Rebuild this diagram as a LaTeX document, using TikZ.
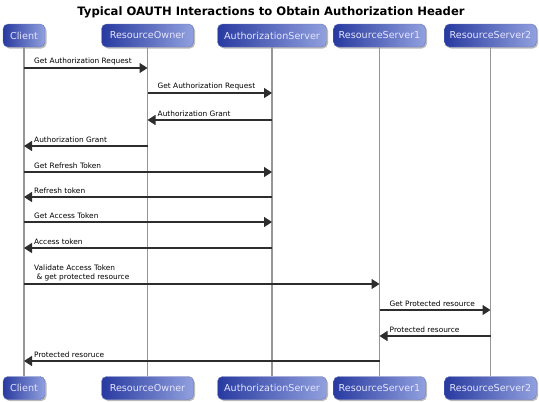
\documentclass[tikz,border=0pt]{standalone}
\usepackage{fontspec}
\setmainfont{DejaVu Sans}
\usetikzlibrary{arrows.meta,shadows}
\definecolor{boxdark}{RGB}{40,58,160}
\definecolor{boxlight}{RGB}{145,160,222}
\definecolor{lifegray}{RGB}{150,150,150}
\definecolor{msggray}{RGB}{45,45,45}
\tikzset{
  actor/.style={rounded corners=5pt, left color=boxdark, right color=boxlight,
    draw=boxdark!70, line width=0.4pt, minimum height=23pt, inner sep=0pt,
    text=white!90!blue, font=\fontsize{9.6}{10}\selectfont,
    drop shadow={shadow xshift=1.5pt, shadow yshift=-1.5pt, fill=black!45, opacity=0.6}},
  lifeline/.style={draw=lifegray, line width=1.3pt},
  msg/.style={draw=msggray, line width=1.5pt, -{Triangle[length=8pt,width=10pt]}},
  mlabel/.style={font=\fontsize{7.4}{8.6}\selectfont, inner sep=0pt, anchor=south west, align=left},
  title/.style={font=\bfseries\fontsize{11.6}{13}\selectfont}
}
\begin{document}
\begin{tikzpicture}[x=1pt,y=-1pt]
\useasboundingbox (0,0) rectangle (539,402);
\node[title] (ttl) at (271,12) {Typical OAUTH Interactions to Obtain Authorization Header};
% top actors
\node[actor, minimum width=42pt] (ct) at (24,35.5) {Client};
\node[actor, minimum width=92pt] (rot) at (147.5,35.5) {ResourceOwner};
\node[actor, minimum width=109pt] (ast) at (272,35.5) {AuthorizationServer};
\node[actor, minimum width=92pt] (ronet) at (379.5,35.5) {ResourceServer1};
\node[actor, minimum width=92pt] (rtwot) at (490.5,35.5) {ResourceServer2};
% bottom actors
\node[actor, minimum width=42pt] (cb) at (24,388) {Client};
\node[actor, minimum width=92pt] (rob) at (147.5,388) {ResourceOwner};
\node[actor, minimum width=109pt] (asb) at (272,388) {AuthorizationServer};
\node[actor, minimum width=92pt] (roneb) at (379.5,388) {ResourceServer1};
\node[actor, minimum width=92pt] (rtwob) at (490.5,388) {ResourceServer2};
% lifelines
\draw[lifeline] (ct.south) -- (cb.north);
\draw[lifeline] (rot.south) -- (rob.north);
\draw[lifeline] (ast.south) -- (asb.north);
\draw[lifeline] (ronet.south) -- (roneb.north);
\draw[lifeline] (rtwot.south) -- (rtwob.north);
% message rows
\coordinate (y1) at (0,68);
\coordinate (y2) at (0,93);
\coordinate (y3) at (0,120);
\coordinate (y4) at (0,146);
\coordinate (y5) at (0,172);
\coordinate (y6) at (0,197);
\coordinate (y7) at (0,222);
\coordinate (y8) at (0,248);
\coordinate (y9) at (0,284);
\coordinate (y10) at (0,310);
\coordinate (y11) at (0,336);
\coordinate (y12) at (0,361);
% messages
\draw[msg] (ct.south |- y1) -- (rot.south |- y1);
\node[mlabel] (l1) at ([xshift=10pt,yshift=3pt]ct.south |- y1) {Get Authorization Request};
\draw[msg] (rot.south |- y2) -- (ast.south |- y2);
\node[mlabel] (l2) at ([xshift=10pt,yshift=3pt]rot.south |- y2) {Get Authorization Request};
\draw[msg] (ast.south |- y3) -- (rot.south |- y3);
\node[mlabel] (l3) at ([xshift=10pt,yshift=3pt]rot.south |- y3) {Authorization Grant};
\draw[msg] (rot.south |- y4) -- (ct.south |- y4);
\node[mlabel] (l4) at ([xshift=10pt,yshift=3pt]ct.south |- y4) {Authorization Grant};
\draw[msg] (ct.south |- y5) -- (ast.south |- y5);
\node[mlabel] (l5) at ([xshift=10pt,yshift=3pt]ct.south |- y5) {Get Refresh Token};
\draw[msg] (ast.south |- y6) -- (ct.south |- y6);
\node[mlabel] (l6) at ([xshift=10pt,yshift=3pt]ct.south |- y6) {Refresh token};
\draw[msg] (ct.south |- y7) -- (ast.south |- y7);
\node[mlabel] (l7) at ([xshift=10pt,yshift=3pt]ct.south |- y7) {Get Access Token};
\draw[msg] (ast.south |- y8) -- (ct.south |- y8);
\node[mlabel] (l8) at ([xshift=10pt,yshift=3pt]ct.south |- y8) {Access token};
\draw[msg] (ct.south |- y9) -- (ronet.south |- y9);
\node[mlabel] (l9) at ([xshift=10pt,yshift=3pt]ct.south |- y9) {Validate Access Token\\\ \& get protected resource};
\draw[msg] (ronet.south |- y10) -- (rtwot.south |- y10);
\node[mlabel] (l10) at ([xshift=10pt,yshift=3pt]ronet.south |- y10) {Get Protected resource};
\draw[msg] (rtwot.south |- y11) -- (ronet.south |- y11);
\node[mlabel] (l11) at ([xshift=10pt,yshift=3pt]ronet.south |- y11) {Protected resource};
\draw[msg] (ronet.south |- y12) -- (ct.south |- y12);
\node[mlabel] (l12) at ([xshift=10pt,yshift=3pt]ct.south |- y12) {Protected resoruce};
\end{tikzpicture}
\end{document}
